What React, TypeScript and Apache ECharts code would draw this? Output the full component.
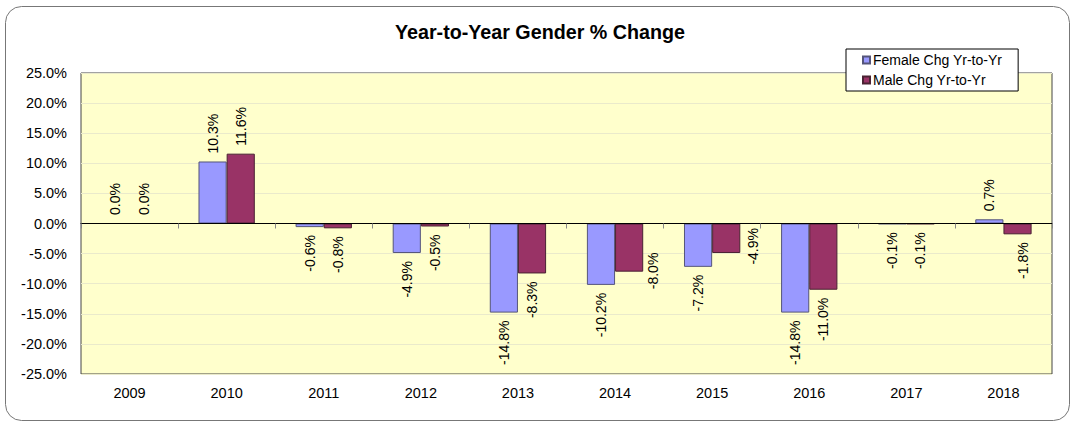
import { useEffect, useRef } from "react";
import * as echarts from "echarts";

const years = ["2009", "2010", "2011", "2012", "2013", "2014", "2015", "2016", "2017", "2018"];
const femaleChg = [0.0, 10.3, -0.6, -4.9, -14.8, -10.2, -7.2, -14.8, -0.1, 0.7];
const maleChg = [0.0, 11.6, -0.8, -0.5, -8.3, -8.0, -4.9, -11.0, -0.1, -1.8];
const yMin = -25;
const yMax = 25;
const yStep = 5;

// manual label nudges (label-local coordinates), as in the original chart
const maleLabelNudge: Record<number, [number, number]> = { 5: [27, 24], 6: [33, 27], 9: [0, 5] };
const femaleLabelNudge: Record<number, [number, number]> = {};

const FONT = "'Liberation Sans', Arial, Helvetica, sans-serif";

function toItems(vals: number[], nudge: Record<number, [number, number]>) {
  return vals.map((v, i) => {
    const label: any = {
      position: v < 0 ? "bottom" : "top",
      align: v < 0 ? "right" : "left",
    };
    if (nudge[i]) label.offset = nudge[i];
    return { value: v, label };
  });
}

export default function App() {
  const ref = useRef<HTMLDivElement>(null);
  useEffect(() => {
    if (!ref.current) return;
    const chart = echarts.init(ref.current, null, { renderer: "svg" });
    const labelBase = {
      show: true,
      rotate: 90,
      distance: 8,
      verticalAlign: "middle",
      fontSize: 14,
      color: "#000",
      fontFamily: FONT,
      formatter: (p: any) => Number(p.value).toFixed(1) + "%",
    };
    chart.setOption({
      animation: false,
      backgroundColor: "#fff",
      textStyle: { fontFamily: FONT },
      graphic: [
        {
          type: "rect",
          shape: { x: 5.5, y: 6.5, width: 1064, height: 414, r: 16 },
          style: { fill: "none", stroke: "#777", lineWidth: 1 },
          z: -1,
        },
      ],
      title: {
        text: "Year-to-Year Gender % Change",
        left: 395,
        top: 22,
        padding: 0,
        textStyle: { fontSize: 19.7, fontWeight: "bold", color: "#000", fontFamily: FONT },
      },
      legend: {
        orient: "vertical",
        left: 846,
        top: 49,
        padding: [4, 16, 4, 16],
        itemGap: 6,
        itemWidth: 7,
        itemHeight: 7,
        backgroundColor: "#fff",
        borderColor: "#000",
        borderWidth: 1,
        icon: "rect",
        textStyle: { fontSize: 14, color: "#000", fontFamily: FONT, padding: [0, 0, 0, -2] },
        data: ["Female Chg Yr-to-Yr", "Male Chg Yr-to-Yr"],
      },
      grid: {
        left: 81,
        right: 23,
        top: 73,
        bottom: 49,
        show: true,
        backgroundColor: "#FFFFCC",
        borderColor: "#444",
        borderWidth: 1,
      },
      xAxis: [
        {
          type: "category",
          data: years,
          axisLine: { show: true, onZero: true, lineStyle: { color: "#000", width: 1 } },
          axisTick: { show: true, length: 5, lineStyle: { color: "#888" } },
          axisLabel: { show: false },
          splitLine: { show: false },
          z: 10,
        },
        {
          type: "category",
          data: years,
          position: "bottom",
          axisLine: { show: false, onZero: false },
          axisTick: { show: false },
          axisLabel: { show: true, fontSize: 14.5, color: "#000", margin: 11, fontFamily: FONT },
          splitLine: { show: false },
        },
      ],
      yAxis: {
        type: "value",
        min: yMin,
        max: yMax,
        interval: yStep,
        axisLine: { show: false },
        axisTick: { show: false },
        axisLabel: {
          fontSize: 14.5,
          color: "#000",
          margin: 14,
          fontFamily: FONT,
          formatter: (v: number) => v.toFixed(1) + "%",
        },
        splitLine: { show: true, lineStyle: { color: "#EAEACB", width: 1 } },
      },
      series: [
        {
          name: "Female Chg Yr-to-Yr",
          type: "bar",
          xAxisIndex: 0,
          data: toItems(femaleChg, femaleLabelNudge),
          barGap: "0%",
          barCategoryGap: "42%",
          itemStyle: { color: "#9999FF", borderColor: "#55557A", borderWidth: 1 },
          label: labelBase,
        },
        {
          name: "Male Chg Yr-to-Yr",
          type: "bar",
          xAxisIndex: 0,
          data: toItems(maleChg, maleLabelNudge),
          barGap: "0%",
          barCategoryGap: "42%",
          itemStyle: { color: "#993366", borderColor: "#4A2233", borderWidth: 1 },
          label: labelBase,
        },
      ],
    });
    return () => chart.dispose();
  }, []);
  return (
    <div
      ref={ref}
      style={{ position: "fixed", left: 0, top: 0, width: 1075, height: 423 }}
    />
  );
}
